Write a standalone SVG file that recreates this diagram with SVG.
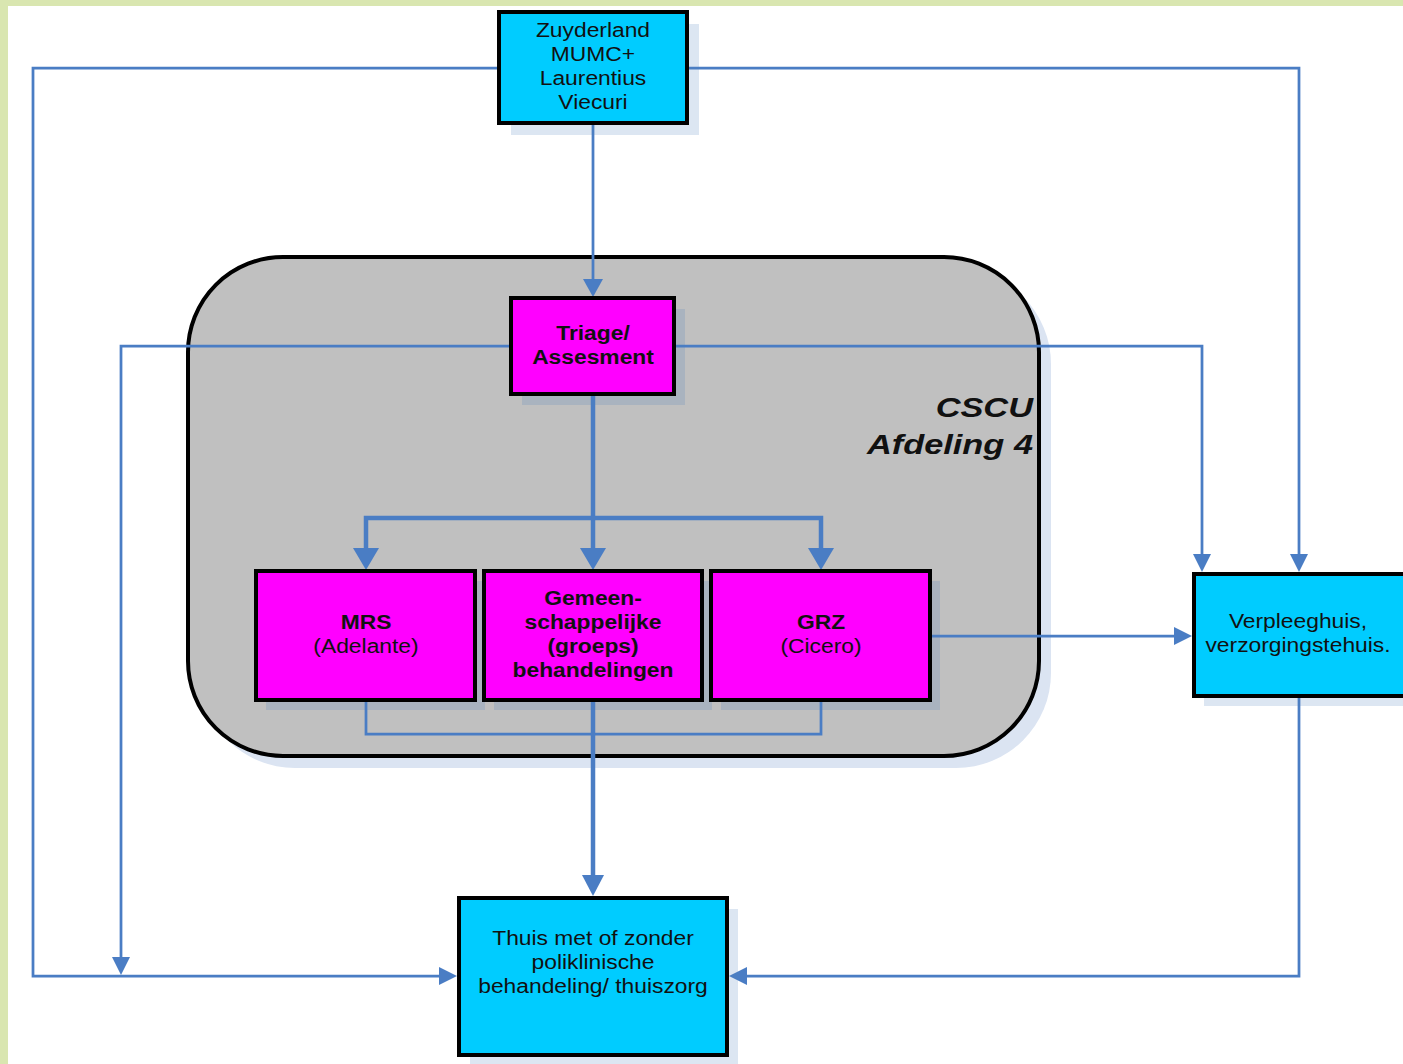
<svg xmlns="http://www.w3.org/2000/svg" width="1403" height="1064" viewBox="0 0 1403 1064">
<style>
.t{font-family:"Liberation Sans",Arial,sans-serif;font-size:19.5px;fill:#111;text-anchor:middle}
.b{font-weight:bold}
.box{stroke:#000;stroke-width:4}
.cyan{fill:#00ccff}
.mag{fill:#ff00ff}
.sh{fill:#4f81bd;opacity:0.2}
.thin{fill:none;stroke:#4a7dc4;stroke-width:2.75}
.thick{fill:none;stroke:#4a7dc4;stroke-width:4.5}
.ah{fill:#4a7dc4}
.lbl{font-family:"Liberation Sans",Arial,sans-serif;font-size:27.5px;font-weight:bold;font-style:italic;fill:#111;text-anchor:end}
</style>
<rect x="0" y="0" width="1403" height="1064" fill="#ffffff"/>
<rect x="0" y="0" width="1403" height="6" fill="#d9e6b0"/>
<rect x="0" y="0" width="8" height="1064" fill="#d9e6b0"/>

<g id="cscu">
<rect x="200" y="269" width="851" height="499" rx="95" fill="#dbe4f2"/>
<rect x="188" y="257" width="851" height="499" rx="95" fill="#c0c0c0" stroke="#000" stroke-width="4"/>
<text class="lbl" transform="translate(1033,0) scale(1.25,1)" x="0" y="417">CSCU</text>
<text class="lbl" transform="translate(1033,0) scale(1.25,1)" x="0" y="454">Afdeling 4</text>
</g>

<g id="connectors">
<path class="thin" d="M499,68 H33 V976 H441"/>
<polygon class="ah" points="439,967 457,976 439,985"/>
<path class="thin" d="M687,68 H1299 V556"/>
<polygon class="ah" points="1290,554 1299,572 1308,554"/>
<path class="thin" d="M593,123 V282"/>
<polygon class="ah" points="583,279 593,297 603,279"/>
<path class="thin" d="M511,346 H121 V960"/>
<polygon class="ah" points="112,957 121,975 130,957"/>
<path class="thin" d="M674,346 H1202 V556"/>
<polygon class="ah" points="1193,554 1202,572 1211,554"/>
<path class="thick" d="M593,396 V552"/>
<polygon class="ah" points="580,548 593,570 606,548"/>
<path class="thick" d="M366,552 V518 H821 V552"/>
<polygon class="ah" points="353,548 366,570 379,548"/>
<polygon class="ah" points="808,548 821,570 834,548"/>
<path class="thin" d="M366,702 V734 H821 V702"/>
<path class="thick" d="M593,702 V878"/>
<polygon class="ah" points="582,875 593,896 604,875"/>
<path class="thin" d="M932,636 H1176"/>
<polygon class="ah" points="1174,627 1192,636 1174,645"/>
<path class="thin" d="M1299,698 V976 H745"/>
<polygon class="ah" points="747,967 729,976 747,985"/>
</g>

<g id="zuyderland">
<rect class="sh" x="511" y="24" width="188" height="111"/>
<rect class="box cyan" x="499" y="12" width="188" height="111"/>
<text class="t" transform="translate(593,0) scale(1.17,1)" x="0" y="37">Zuyderland</text>
<text class="t" transform="translate(593,0) scale(1.17,1)" x="0" y="61">MUMC+</text>
<text class="t" transform="translate(593,0) scale(1.17,1)" x="0" y="85">Laurentius</text>
<text class="t" transform="translate(593,0) scale(1.17,1)" x="0" y="109">Viecuri</text>
</g>

<g id="triage">
<rect class="sh" x="522" y="309" width="163" height="96"/>
<rect class="box mag" x="511" y="298" width="163" height="96"/>
<text class="t b" transform="translate(593,0) scale(1.17,1)" x="0" y="340">Triage/</text>
<text class="t b" transform="translate(593,0) scale(1.17,1)" x="0" y="364">Assesment</text>
</g>

<g id="mrs">
<rect class="sh" x="266" y="581" width="219" height="129"/>
<rect class="box mag" x="256" y="571" width="219" height="129"/>
<text class="t b" transform="translate(366,0) scale(1.17,1)" x="0" y="629">MRS</text>
<text class="t" transform="translate(366,0) scale(1.17,1)" x="0" y="653">(Adelante)</text>
</g>

<g id="gemeen">
<rect class="sh" x="494" y="581" width="218" height="129"/>
<rect class="box mag" x="484" y="571" width="218" height="129"/>
<text class="t b" transform="translate(593,0) scale(1.17,1)" x="0" y="605">Gemeen-</text>
<text class="t b" transform="translate(593,0) scale(1.17,1)" x="0" y="629">schappelijke</text>
<text class="t b" transform="translate(593,0) scale(1.17,1)" x="0" y="653">(groeps)</text>
<text class="t b" transform="translate(593,0) scale(1.17,1)" x="0" y="677">behandelingen</text>
</g>

<g id="grz">
<rect class="sh" x="721" y="581" width="219" height="129"/>
<rect class="box mag" x="711" y="571" width="219" height="129"/>
<text class="t b" transform="translate(821,0) scale(1.17,1)" x="0" y="629">GRZ</text>
<text class="t" transform="translate(821,0) scale(1.17,1)" x="0" y="653">(Cicero)</text>
</g>

<g id="verpleeghuis">
<rect class="sh" x="1204" y="584" width="220" height="122"/>
<rect class="box cyan" x="1194" y="574" width="220" height="122"/>
<text class="t" transform="translate(1298,0) scale(1.17,1)" x="0" y="628">Verpleeghuis,</text>
<text class="t" transform="translate(1298,0) scale(1.17,1)" x="0" y="652">verzorgingstehuis.</text>
</g>

<g id="thuis">
<rect class="sh" x="470" y="909" width="268" height="157"/>
<rect class="box cyan" x="459" y="898" width="268" height="157"/>
<text class="t" transform="translate(593,0) scale(1.17,1)" x="0" y="945">Thuis met of zonder</text>
<text class="t" transform="translate(593,0) scale(1.17,1)" x="0" y="969">poliklinische</text>
<text class="t" transform="translate(593,0) scale(1.17,1)" x="0" y="993">behandeling/ thuiszorg</text>
</g>
</svg>
